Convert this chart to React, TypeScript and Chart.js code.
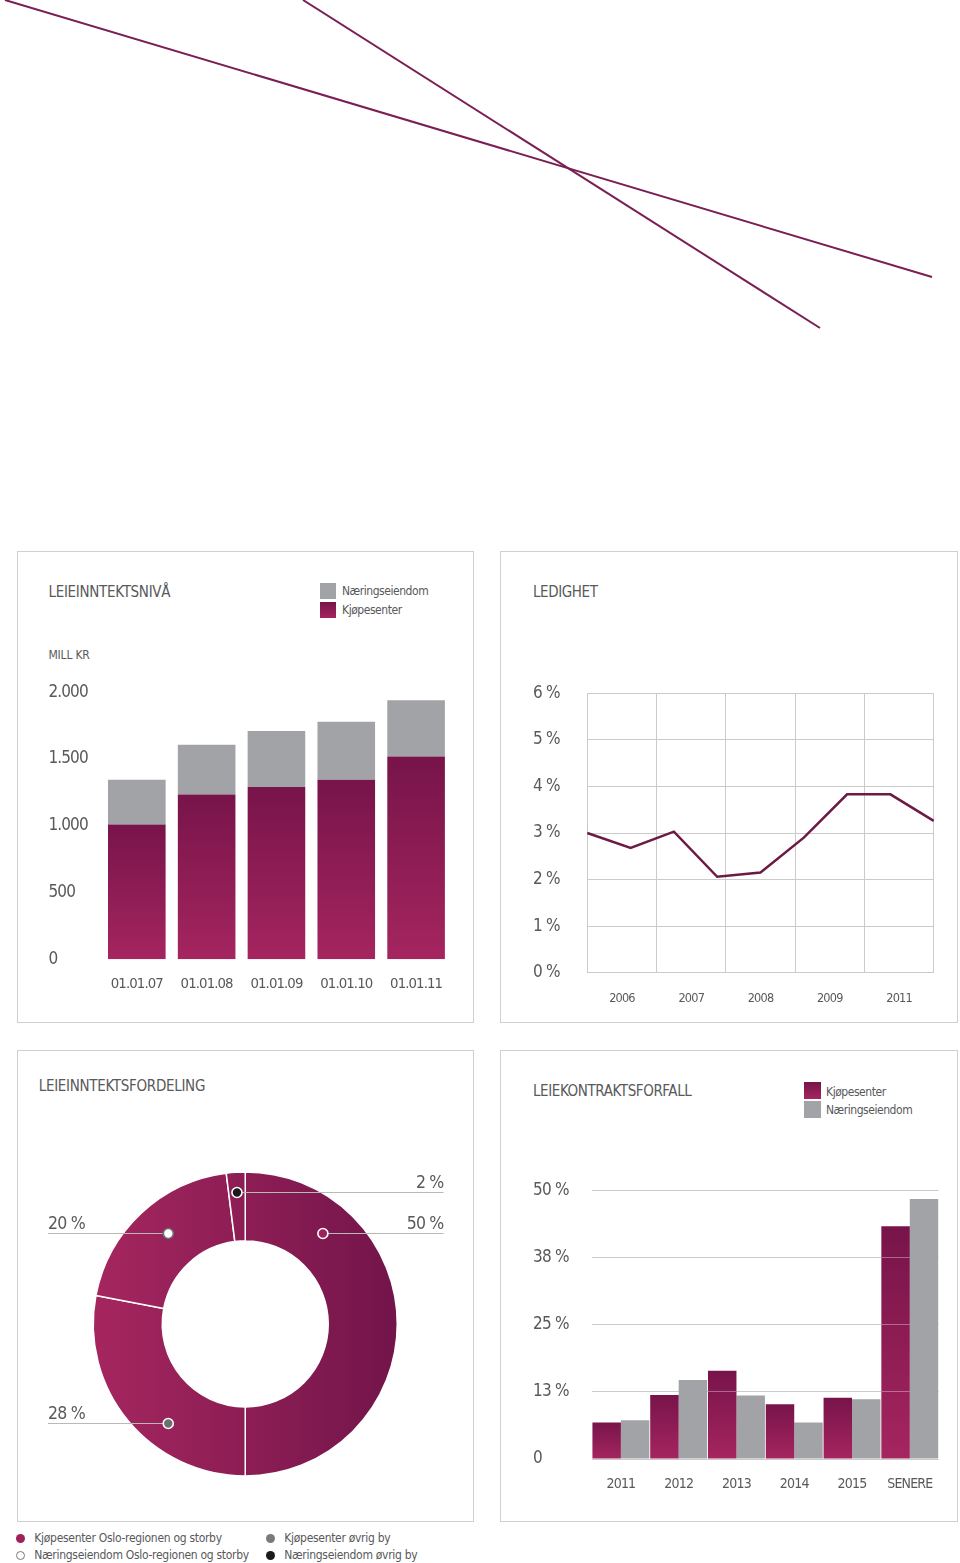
import React, { useEffect, useRef } from 'react';
import { Chart, registerables } from 'chart.js';

Chart.register(...registerables);

// ---------- data ----------
const INCOME_DATES = ['01.01.07', '01.01.08', '01.01.09', '01.01.10', '01.01.11'];
const INCOME_KJOPESENTER = [1010, 1235, 1290, 1345, 1520];
const INCOME_NAERING = [335, 372, 420, 435, 420];
const INCOME_TICKS = ['0', '500', '1.000', '1.500', '2.000'];

const VACANCY_YEARS = ['2006', '2007', '2008', '2009', '2011'];
const VACANCY_POINTS = ['1', '2', '3', '4', '5', '6', '7', '8', '9'];
const VACANCY_VALUES = [3.0, 2.68, 3.03, 2.06, 2.15, 2.9, 3.83, 3.83, 3.26];
const VACANCY_TICKS = ['0 %', '1 %', '2 %', '3 %', '4 %', '5 %', '6 %'];

const DIST_LABELS = [
  'Kjøpesenter Oslo-regionen og storby',
  'Kjøpesenter øvrig by',
  'Næringseiendom Oslo-regionen og storby',
  'Næringseiendom øvrig by',
];
const DIST_VALUES = [50, 28, 20, 2];

const EXPIRY_YEARS = ['2011', '2012', '2013', '2014', '2015', 'SENERE'];
const EXPIRY_KJOPESENTER = [6.8, 11.9, 16.4, 10.2, 11.4, 43.3];
const EXPIRY_NAERING = [7.2, 14.7, 11.8, 6.8, 11.1, 48.4];
const EXPIRY_TICKS = ['0', '13 %', '25 %', '38 %', '50 %'];

// ---------- style ----------
const FONT = "'DejaVu Sans Condensed', 'Liberation Sans Narrow', sans-serif";
const TEXT = '#58595b';
const GRID = '#cbcbcb';
const PURPLE_DARK = '#77144a';
const PURPLE_LIGHT = '#a5255f';
const GRAY = '#a2a3a6';
const LINE_COLOR = '#6d1a45';
const BORDER = '#d0d0d0';

const MARKER_STYLES = [
  { fill: '#9e2159', stroke: '#ffffff' },
  { fill: '#6d6e71', stroke: '#ffffff' },
  { fill: '#ffffff', stroke: '#6d6e71' },
  { fill: '#1a1a1a', stroke: '#ffffff' },
];
const MARKER_ANGLE_POS = [0.225, 0.377, 0.54, 0.5];
const MARKER_RADIUS_POS = [0.53, 0.61, 0.52, 0.71];
const MARKER_SIDE = ['right', 'left', 'left', 'right'];

function barGradient(ctx: any) {
  const chart = ctx.chart;
  if (!chart.chartArea || ctx.type !== 'data' || !chart.scales.y) return PURPLE_LIGHT;
  const y = chart.scales.y;
  const top = y.getPixelForValue(ctx.raw);
  const bottom = y.getPixelForValue(0);
  if (!isFinite(top) || !isFinite(bottom) || bottom - top < 1) return PURPLE_LIGHT;
  const g = chart.ctx.createLinearGradient(0, top, 0, bottom);
  g.addColorStop(0, PURPLE_DARK);
  g.addColorStop(1, PURPLE_LIGHT);
  return g;
}

function donutGradient(ctx: any) {
  const area = ctx.chart.chartArea;
  if (!area) return PURPLE_LIGHT;
  const g = ctx.chart.ctx.createLinearGradient(area.left, 0, area.right, 0);
  g.addColorStop(0, '#a6265f');
  g.addColorStop(1, '#72154a');
  return g;
}

const tightText = (ls: string) => ({
  id: 'tightText',
  beforeUpdate(chart: any) {
    chart.ctx.letterSpacing = ls;
  },
  beforeDraw(chart: any) {
    chart.ctx.letterSpacing = ls;
  },
});

const gridOverPurple = {
  id: 'gridOverPurple',
  afterDatasetsDraw(chart: any) {
    const meta = chart.getDatasetMeta(0);
    const yScale = chart.scales.y;
    const c = chart.ctx;
    c.save();
    c.strokeStyle = 'rgba(255,255,255,0.35)';
    c.lineWidth = 1;
    meta.data.forEach((bar: any) => {
      const p = bar.getProps(['x', 'y', 'base', 'width'], true);
      yScale.ticks.forEach((t: any) => {
        const py = Math.round(yScale.getPixelForValue(t.value) - 0.5) + 0.5;
        if (py > p.y + 1 && py < p.base - 1) {
          c.beginPath();
          c.moveTo(p.x - p.width / 2, py);
          c.lineTo(p.x + p.width / 2, py);
          c.stroke();
        }
      });
    });
    c.restore();
  },
};

const donutMarkers = {
  id: 'donutMarkers',
  afterDatasetsDraw(chart: any) {
    const meta = chart.getDatasetMeta(0);
    const c = chart.ctx;
    const values = chart.data.datasets[0].data;
    const leftX = 31;
    const rightX = chart.width - 29.5;
    meta.data.forEach((arc: any, i: number) => {
      const p = arc.getProps(['x', 'y', 'startAngle', 'endAngle', 'innerRadius', 'outerRadius'], true);
      const a = p.startAngle + (p.endAngle - p.startAngle) * MARKER_ANGLE_POS[i];
      const r = p.innerRadius + (p.outerRadius - p.innerRadius) * MARKER_RADIUS_POS[i];
      const mx = p.x + Math.cos(a) * r;
      const my = Math.round(p.y + Math.sin(a) * r) + 0.5;
      const isLeft = MARKER_SIDE[i] === 'left';
      const endX = isLeft ? leftX : rightX;
      c.save();
      c.strokeStyle = '#b9b9b9';
      c.lineWidth = 1;
      c.beginPath();
      c.moveTo(mx, my);
      c.lineTo(endX, my);
      c.stroke();
      c.fillStyle = TEXT;
      c.font = `17.5px ${FONT}`;
      c.letterSpacing = '-0.8px';
      c.textBaseline = 'alphabetic';
      c.textAlign = isLeft ? 'left' : 'right';
      c.fillText(`${values[i]} %`, endX, my - 4.5);
      const st = MARKER_STYLES[i];
      c.beginPath();
      c.arc(mx, my, 5, 0, Math.PI * 2);
      c.fillStyle = st.fill;
      c.fill();
      c.lineWidth = 1.6;
      c.strokeStyle = st.stroke;
      c.stroke();
      c.restore();
    });
  },
};

// ---------- components ----------
function ChartBox({ x, y, w, h, make }: { x: number; y: number; w: number; h: number; make: () => any }) {
  const ref = useRef<HTMLCanvasElement>(null);
  useEffect(() => {
    const chart = new Chart(ref.current as HTMLCanvasElement, make());
    return () => chart.destroy();
  }, []);
  return (
    <canvas
      ref={ref}
      width={w}
      height={h}
      style={{ position: 'absolute', left: x, top: y, width: w, height: h, display: 'block' }}
    />
  );
}

function Txt({ x, cy, size, spacing = 0, children, color = TEXT }: any) {
  return (
    <div
      style={{
        position: 'absolute',
        left: x,
        top: cy - size * 0.5,
        fontFamily: FONT,
        fontSize: size,
        lineHeight: `${size}px`,
        letterSpacing: spacing,
        color,
        whiteSpace: 'nowrap',
      }}
    >
      {children}
    </div>
  );
}

function Panel({ x, y, w, h }: any) {
  return (
    <div
      style={{
        position: 'absolute',
        left: x,
        top: y,
        width: w,
        height: h,
        border: `1px solid ${BORDER}`,
        boxSizing: 'border-box',
      }}
    />
  );
}

function Swatch({ x, y, w, h, purple }: any) {
  return (
    <div
      style={{
        position: 'absolute',
        left: x,
        top: y,
        width: w,
        height: h,
        background: purple ? `linear-gradient(${PURPLE_DARK}, ${PURPLE_LIGHT})` : GRAY,
      }}
    />
  );
}

function Dot({ x, cy, fill, stroke }: any) {
  return (
    <div
      style={{
        position: 'absolute',
        left: x - 4.5,
        top: cy - 4.5,
        width: 9,
        height: 9,
        borderRadius: '50%',
        boxSizing: 'border-box',
        background: fill,
        border: stroke ? `1.5px solid ${stroke}` : 'none',
      }}
    />
  );
}

const tickFont = (size: number) => ({ family: FONT, size });

function makeIncome() {
  return {
    type: 'bar',
    data: {
      labels: INCOME_DATES,
      datasets: [
        { label: 'Kjøpesenter', data: INCOME_KJOPESENTER, backgroundColor: barGradient },
        { label: 'Næringseiendom', data: INCOME_NAERING, backgroundColor: GRAY },
      ],
    },
    plugins: [tightText('-0.9px')],
    options: {
      animation: false,
      responsive: false,
      layout: { padding: { left: 8.5, right: 21, top: 24.3, bottom: 14.7 } },
      datasets: { bar: { barPercentage: 1, categoryPercentage: 0.825 } },
      plugins: { legend: { display: false }, tooltip: { enabled: false } },
      scales: {
        x: {
          stacked: true,
          grid: { display: false, drawTicks: false },
          border: { display: false },
          ticks: { font: tickFont(14.8), color: TEXT, padding: 16, maxRotation: 0, minRotation: 0, autoSkip: false },
          afterFit: (s: any) => {
            s.height = 34;
          },
        },
        y: {
          stacked: true,
          min: 0,
          max: 2000,
          grid: { display: false, drawTicks: false },
          border: { display: false },
          ticks: {
            stepSize: 500,
            font: tickFont(17),
            color: TEXT,
            crossAlign: 'far',
            padding: 0,
            callback: (_v: any, i: number) => INCOME_TICKS[i],
          },
          afterFit: (s: any) => {
            s.width = 53.4;
          },
        },
      },
    },
  };
}

function makeVacancy() {
  return {
    type: 'line',
    data: {
      labels: VACANCY_POINTS,
      datasets: [
        {
          label: 'Ledighet',
          data: VACANCY_VALUES,
          borderColor: LINE_COLOR,
          borderWidth: 2.5,
          pointRadius: 0,
          tension: 0,
          fill: false,
          xAxisID: 'x',
          yAxisID: 'y',
        },
      ],
    },
    plugins: [tightText('-0.8px')],
    options: {
      animation: false,
      responsive: false,
      layout: { padding: { left: 23, right: 23.3, top: 25.3, bottom: 11.5 } },
      plugins: { legend: { display: false }, tooltip: { enabled: false } },
      scales: {
        x: { type: 'category', display: false, offset: false },
        years: {
          type: 'category',
          labels: VACANCY_YEARS,
          position: 'bottom',
          offset: true,
          grid: { offset: true, color: GRID, drawTicks: false, lineWidth: 1 },
          border: { display: true, color: GRID },
          ticks: { font: tickFont(12.6), color: TEXT, padding: 18.7, maxRotation: 0, minRotation: 0 },
          afterFit: (s: any) => {
            s.height = 33.8;
          },
        },
        y: {
          min: 0,
          max: 6,
          grid: { color: GRID, drawTicks: false },
          border: { display: false },
          ticks: {
            stepSize: 1,
            font: tickFont(17),
            color: TEXT,
            crossAlign: 'far',
            padding: 0,
            callback: (_v: any, i: number) => VACANCY_TICKS[i],
          },
          afterFit: (s: any) => {
            s.width = 54.3;
          },
        },
      },
    },
  };
}

function makeDistribution() {
  return {
    type: 'doughnut',
    data: {
      labels: DIST_LABELS,
      datasets: [
        {
          data: DIST_VALUES,
          backgroundColor: donutGradient,
          borderColor: '#ffffff',
          borderWidth: 1.5,
        },
      ],
    },
    plugins: [donutMarkers],
    options: {
      animation: false,
      responsive: false,
      cutout: '54.6%',
      layout: { padding: { left: 75.5, right: 75, top: 11.2, bottom: 23.3 } },
      plugins: { legend: { display: false }, tooltip: { enabled: false } },
    },
  };
}

function makeExpiry() {
  return {
    type: 'bar',
    data: {
      labels: EXPIRY_YEARS,
      datasets: [
        { label: 'Kjøpesenter', data: EXPIRY_KJOPESENTER, backgroundColor: barGradient },
        { label: 'Næringseiendom', data: EXPIRY_NAERING, backgroundColor: GRAY },
      ],
    },
    plugins: [gridOverPurple, tightText('-0.8px')],
    options: {
      animation: false,
      responsive: false,
      layout: { padding: { left: 23, right: 18.3, top: 25.3, bottom: 17.6 } },
      datasets: { bar: { barPercentage: 1, categoryPercentage: 0.985 } },
      plugins: { legend: { display: false }, tooltip: { enabled: false } },
      scales: {
        x: {
          grid: { display: false, drawTicks: false },
          border: { display: false },
          ticks: { font: tickFont(14), color: TEXT, padding: 16.6, maxRotation: 0, minRotation: 0, autoSkip: false },
          afterFit: (s: any) => {
            s.height = 33.4;
          },
        },
        y: {
          min: 0,
          max: 50,
          grid: { color: GRID, drawTicks: false },
          border: { display: false },
          ticks: {
            stepSize: 12.5,
            font: tickFont(17),
            color: TEXT,
            crossAlign: 'far',
            padding: 0,
            callback: (_v: any, i: number) => EXPIRY_TICKS[i],
          },
          afterFit: (s: any) => {
            s.width = 59;
          },
        },
      },
    },
  };
}

export default function App() {
  return (
    <div style={{ position: 'absolute', left: 0, top: 0, width: 960, height: 1563, background: '#ffffff', overflow: 'hidden' }}>
      <svg width={960} height={340} style={{ position: 'absolute', left: 0, top: 0 }}>
        <line x1={5} y1={0} x2={932} y2={277} stroke="#7a1f54" strokeWidth={2} />
        <line x1={303} y1={0} x2={820} y2={328} stroke="#7a1f54" strokeWidth={2} />
      </svg>

      <Panel x={17} y={551} w={457} h={472} />
      <Panel x={500} y={551} w={458} h={472} />
      <Panel x={17} y={1050} w={457} h={472} />
      <Panel x={500} y={1050} w={458} h={472} />

      {/* Panel 1 */}
      <Txt x={48.5} cy={592} size={15} spacing={-0.3}>LEIEINNTEKTSNIVÅ</Txt>
      <Swatch x={320} y={583} w={16} h={16} />
      <Swatch x={320} y={602} w={16} h={16} purple />
      <Txt x={342} cy={591} size={12} spacing={-0.45}>Næringseiendom</Txt>
      <Txt x={342} cy={610} size={12} spacing={-0.45}>Kjøpesenter</Txt>
      <Txt x={48.5} cy={655} size={12} spacing={-0.2}>MILL KR</Txt>
      <ChartBox x={40} y={668} w={432} h={340} make={makeIncome} />

      {/* Panel 2 */}
      <Txt x={533} cy={592} size={15} spacing={-0.4}>LEDIGHET</Txt>
      <ChartBox x={510} y={668} w={447} h={350} make={makeVacancy} />

      {/* Panel 3 */}
      <Txt x={38.7} cy={1086.5} size={15} spacing={-0.3}>LEIEINNTEKTSFORDELING</Txt>
      <ChartBox x={17} y={1160} w={456} h={340} make={makeDistribution} />

      {/* Panel 4 */}
      <Txt x={533} cy={1091} size={15} spacing={-0.4}>LEIEKONTRAKTSFORFALL</Txt>
      <Swatch x={804} y={1082} w={17} h={17} purple />
      <Swatch x={804} y={1101} w={17} h={17} />
      <Txt x={826} cy={1092} size={12} spacing={-0.45}>Kjøpesenter</Txt>
      <Txt x={826} cy={1110} size={12} spacing={-0.45}>Næringseiendom</Txt>
      <ChartBox x={510} y={1165} w={447} h={345} make={makeExpiry} />

      {/* Donut legend */}
      <Dot x={20.3} cy={1538} fill={MARKER_STYLES[0].fill} />
      <Txt x={34.3} cy={1538} size={12} spacing={-0.3}>{DIST_LABELS[0]}</Txt>
      <Dot x={20.3} cy={1555} fill="#ffffff" stroke="#7a7a7a" />
      <Txt x={34.3} cy={1555} size={12} spacing={-0.3}>{DIST_LABELS[2]}</Txt>
      <Dot x={270.7} cy={1538} fill="#7a7a7c" />
      <Txt x={284.3} cy={1538} size={12} spacing={-0.3}>{DIST_LABELS[1]}</Txt>
      <Dot x={270.7} cy={1555} fill="#1a1a1a" />
      <Txt x={284.3} cy={1555} size={12} spacing={-0.3}>{DIST_LABELS[3]}</Txt>
    </div>
  );
}
